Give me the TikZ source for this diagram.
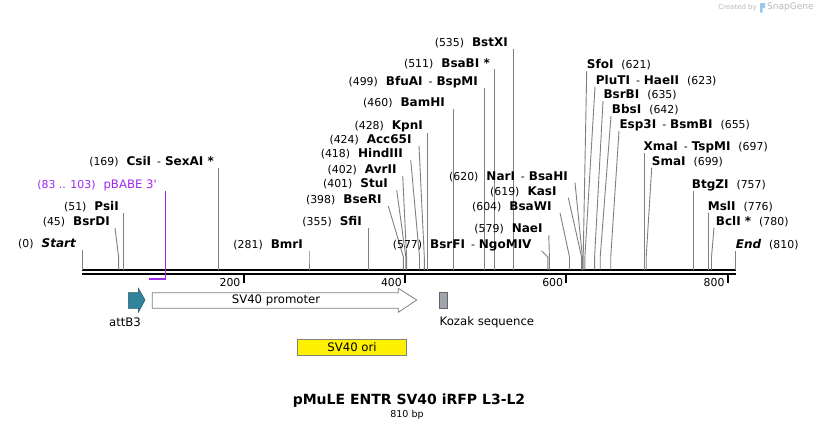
\documentclass[tikz,border=0pt]{standalone}
\usepackage{fontspec}
\setmainfont{DejaVu Sans}
\usetikzlibrary{calc}
\definecolor{cutgrey}{RGB}{128,128,128}
\definecolor{purp}{RGB}{160,40,240}
\definecolor{attteal}{RGB}{49,130,155}
\definecolor{kozakgrey}{RGB}{160,164,172}
\definecolor{wmgrey}{RGB}{185,185,185}
\definecolor{wmblue}{RGB}{150,200,240}
\newcommand\nm[1]{{\fontsize{12}{14}\selectfont\bfseries #1}}
\newcommand\nmi[1]{{\fontsize{12}{14}\selectfont\bfseries\itshape #1}}
\newcommand\gp{\hspace{8pt}}
\newcommand\dsh{\hspace{6pt}-\hspace{4pt}}
\tikzset{
  lbl/.style={inner sep=0pt, font=\fontsize{10.9}{12}\selectfont},
  feat/.style={inner sep=0pt, font=\fontsize{11.7}{13}\selectfont},
  cut/.style={draw=cutgrey, line width=0.9pt},
}
% left label: id, text, label end x, y, line top x, site x
\newcommand\cutL[6]{%
  \node[lbl,anchor=east] (#1) at (#3,#4) {#2};
  \coordinate (#1-t) at (#5,#4+6);
  \coordinate (#1-b) at (#6,257);
  \coordinate (#1-s) at (#6,269.5);
  \draw[cut] (#1-t) -- (#1-b) -- (#1-s);
}
% right label: id, text, label start x, y, line top x, site x
\newcommand\cutR[6]{%
  \node[lbl,anchor=west] (#1) at (#3,#4) {#2};
  \coordinate (#1-t) at (#5,#4+6);
  \coordinate (#1-b) at (#6,257);
  \coordinate (#1-s) at (#6,269.5);
  \draw[cut] (#1-t) -- (#1-b) -- (#1-s);
}
\begin{document}
\begin{tikzpicture}[x=1pt,y=-1pt]
\useasboundingbox[fill=white] (0,0) rectangle (818,432);

% watermark
\node[inner sep=0pt, anchor=east, text=wmgrey, font=\fontsize{7}{8}\selectfont] (wm1) at (757,7.5) {Created by};
\fill[wmblue] (760,3) rectangle (765,8) (760,8) rectangle (762.5,12.5);
\node[inner sep=0pt, anchor=west, text=wmgrey, font=\fontsize{9}{10}\selectfont] (wm2) at (767,7.5) {SnapGene};

% backbone
\coordinate (bbL1) at (82,270.3); \coordinate (bbR1) at (736,270.3);
\coordinate (bbL2) at (82,274.3); \coordinate (bbR2) at (736,274.3);
\draw[line width=2pt] (bbL1) -- (bbR1);
\draw[line width=2pt] (bbL2) -- (bbR2);
\foreach \v/\xx in {200/243.6, 400/405.0, 600/566.3, 800/727.7}{
  \draw[line width=2pt] (\xx,275) -- (\xx,282.7);
  \node[lbl, anchor=east] (tick\v) at (\xx-3,282.5) {\v};
}

% left-side labels
\cutL{start}{(0)\gp\nmi{Start}}{76}{244}{82.3}{82.3}
\cutL{bsrdi}{(45)\gp\nm{BsrDI}}{110}{222}{115}{118.6}
\cutL{psii}{(51)\gp\nm{PsiI}}{119}{207}{123.4}{123.4}
\cutL{csii}{(169)\gp\nm{CsiI}\dsh\nm{SexAI *}}{214}{162}{218.6}{218.6}
\cutL{bmri}{(281)\gp\nm{BmrI}}{303}{245}{309}{309}
\cutL{sfii}{(355)\gp\nm{SfiI}}{362}{222}{368.7}{368.7}
\cutL{bseri}{(398)\gp\nm{BseRI}}{381.7}{200}{388.3}{403.4}
\cutL{stui}{(401)\gp\nm{StuI}}{388}{184}{396.7}{405.8}
\cutL{avrii}{(402)\gp\nm{AvrII}}{396.7}{170}{402.7}{406.6}
\cutL{hind}{(418)\gp\nm{HindIII}}{403}{154}{410.7}{419.5}
\cutL{acc}{(424)\gp\nm{Acc65I}}{411.7}{140}{419}{424.3}
\cutL{kpni}{(428)\gp\nm{KpnI}}{423}{126.7}{427.6}{427.6}
\cutL{bamhi}{(460)\gp\nm{BamHI}}{445}{102.7}{453.4}{453.4}
\cutL{bfuai}{(499)\gp\nm{BfuAI}\dsh\nm{BspMI}}{478}{81.7}{484.8}{484.8}
\cutL{bsabi}{(511)\gp\nm{BsaBI *}}{490}{63.3}{494.5}{494.5}
\cutL{bstxi}{(535)\gp\nm{BstXI}}{508}{43.3}{513.9}{513.9}
\cutL{nari}{(620)\gp\nm{NarI}\dsh\nm{BsaHI}}{568}{176.7}{575}{582.4}
\cutL{kasi}{(619)\gp\nm{KasI}}{556.7}{191.7}{568.3}{581.6}
\cutL{bsawi}{(604)\gp\nm{BsaWI}}{551.7}{206.7}{560}{569.5}
\cutL{naei}{(579)\gp\nm{NaeI}}{542.7}{229.3}{548.8}{549.4}
\cutL{bsrfi}{(577)\gp\nm{BsrFI}\dsh\nm{NgoMIV}}{531.7}{245}{541.7}{547.8}

% right-side labels
\cutR{sfoi}{\nm{SfoI}\gp(621)}{586.7}{65}{586.7}{583.2}
\cutR{pluti}{\nm{PluTI}\dsh\nm{HaeII}\gp(623)}{595.7}{80.7}{595}{584.9}
\cutR{bsrbi}{\nm{BsrBI}\gp(635)}{603.3}{95}{603}{594.6}
\cutR{bbsi}{\nm{BbsI}\gp(642)}{611.7}{110}{611}{600.2}
\cutR{esp}{\nm{Esp3I}\dsh\nm{BsmBI}\gp(655)}{619.3}{125}{619}{610.7}
\cutR{xmai}{\nm{XmaI}\dsh\nm{TspMI}\gp(697)}{643.3}{147.3}{644.5}{644.5}
\cutR{smai}{\nm{SmaI}\gp(699)}{651.7}{161.7}{651.7}{646.2}
\cutR{btgzi}{\nm{BtgZI}\gp(757)}{691.7}{185}{693}{693}
\cutR{msli}{\nm{MslI}\gp(776)}{707.7}{206.7}{708.3}{708.3}
\cutR{bcli}{\nm{BclI *}\gp(780)}{715.7}{221.7}{714}{711.5}
\cutR{end}{\nmi{End}\gp(810)}{735.7}{245}{735.7}{735.7}

% pBABE 3' primer
\node[lbl, anchor=east, text=purp] (pbabe) at (157,185) {(83 .. 103)\gp{\fontsize{11.7}{13}\selectfont pBABE 3\textquotesingle}};
\coordinate (pb-t) at (165.4,191);
\coordinate (pb-e) at (165.4,279);
\coordinate (pb-s) at (149,279);
\draw[draw=purp, line width=1.5pt] (pb-t) -- (pb-e) -- (pb-s);

% features
\draw[fill=attteal, draw=attteal!70!black, line width=0.6pt]
  (128.3,292.7) -- (138.3,292.7) -- (138.3,288.3) -- (145,300) -- (138.3,312.3) -- (138.3,308.3) -- (128.3,308.3) -- cycle;
\node[feat] (attb3) at (125,322) {attB3};

\draw[fill=white, draw=cutgrey, line width=0.8pt]
  (152.3,292.7) -- (398.3,292.7) -- (398.3,288.3) -- (416.7,300) -- (398.3,312.3) -- (398.3,308.3) -- (152.3,308.3) -- cycle;
\node[feat] (sv40p) at (276,300) {SV40 promoter};

\draw[fill=kozakgrey, draw=black!60, line width=0.6pt] (439.3,292.7) rectangle (447.3,308.3);
\node[feat, anchor=west] (kozak) at (439.5,322) {Kozak sequence};

\draw[fill=yellow, draw=cutgrey, line width=0.8pt] (297.3,339.3) rectangle (406.7,355.3);
\node[feat] (ori) at (352,347.3) {SV40 ori};

% title
\node[inner sep=0pt, font=\fontsize{14}{16}\selectfont\bfseries] (title) at (409,400.5) {pMuLE ENTR SV40 iRFP L3-L2};
\node[inner sep=0pt, font=\fontsize{9.5}{11}\selectfont] (bp) at (407,415) {810 bp};
\end{tikzpicture}
\end{document}
